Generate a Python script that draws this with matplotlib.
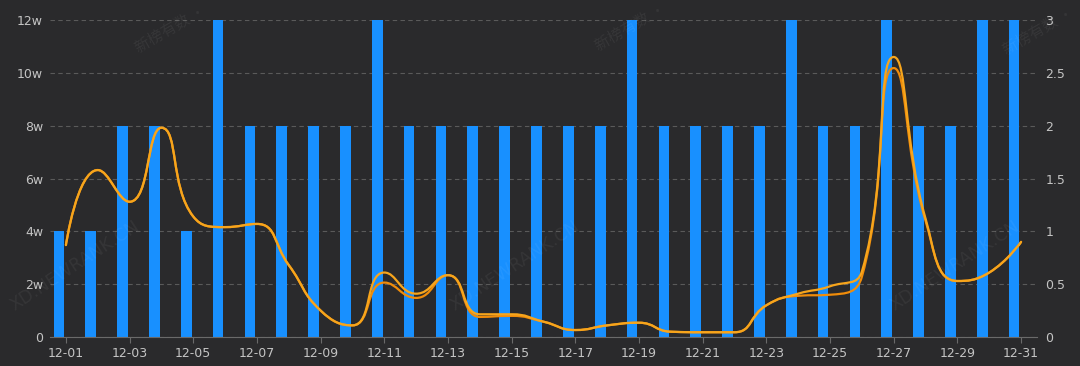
import numpy as np
import matplotlib
matplotlib.use("Agg")
import matplotlib.pyplot as plt
from matplotlib.path import Path
from matplotlib.patches import PathPatch

plt.rcParams["font.family"] = ["DejaVu Sans", "Noto Sans CJK SC"]

DAYS = [f"12-{d:02d}" for d in range(1, 32)]

# bar series, left axis (units of 1w = 10,000)
BAR_VALUES = [4, 4, 8, 8, 4, 12, 8, 8, 8, 8, 12, 8, 8, 8, 8, 8,
              8, 8, 12, 8, 8, 8, 8, 12, 8, 8, 12, 8, 8, 12, 12]

# line series, right axis
LINE_GOLD = [0.87, 1.58, 1.28, 1.98, 1.14, 1.04, 1.07, 0.68, 0.25, 0.11,
             0.61, 0.41, 0.585, 0.215, 0.215, 0.145, 0.066, 0.11, 0.135, 0.05,
             0.045, 0.045, 0.30, 0.41, 0.48, 0.62, 2.65, 1.12, 0.53, 0.61, 0.90]
LINE_ORANGE = [0.87, 1.58, 1.28, 1.98, 1.14, 1.04, 1.07, 0.68, 0.25, 0.11,
               0.515, 0.37, 0.585, 0.19, 0.20, 0.145, 0.066, 0.11, 0.135, 0.05,
               0.045, 0.045, 0.30, 0.39, 0.40, 0.57, 2.545, 1.10, 0.53, 0.61, 0.90]

LEFT_TICKS = [0, 2, 4, 6, 8, 10, 12]
LEFT_LABELS = ["0", "2w", "4w", "6w", "8w", "10w", "12w"]
RIGHT_TICKS = [0, 0.5, 1, 1.5, 2, 2.5, 3]
RIGHT_LABELS = ["0", "0.5", "1", "1.5", "2", "2.5", "3"]

BG = "#2a2a2c"
BAR_COLOR = "#1890ff"
TEXT_COLOR = "#c4c4c4"
AXIS_COLOR = "#6a6a6a"
GRID_COLOR = "#5a5a5a"


def smooth_path(xs, ys, sx, sy, smooth=0.5):
    """Bezier path through the points, control points clamped like echarts."""
    p = np.column_stack([np.asarray(xs, float) * sx, np.asarray(ys, float) * sy])
    n = len(p)
    verts = [tuple(p[0])]
    codes = [Path.MOVETO]
    cp_out = p[0].copy()
    for i in range(1, n):
        cur = p[i]
        if i == n - 1:
            cp_in = cur.copy()
            nxt_out = cur.copy()
        else:
            prev, nxt = p[i - 1], p[i + 1]
            v = nxt - prev
            l0 = np.hypot(*(cur - prev))
            l1 = np.hypot(*(nxt - cur))
            r = l1 / (l0 + l1)
            c1 = cur + v * smooth * r
            c1 = np.minimum(c1, np.maximum(nxt, cur))
            c1 = np.maximum(c1, np.minimum(nxt, cur))
            vv = c1 - cur
            c0 = cur - vv * l0 / l1
            c0 = np.minimum(c0, np.maximum(prev, cur))
            c0 = np.maximum(c0, np.minimum(prev, cur))
            vv = cur - c0
            c1 = cur + vv * l1 / l0
            cp_in, nxt_out = c0, c1
        verts += [tuple(cp_out), tuple(cp_in), tuple(cur)]
        codes += [Path.CURVE4] * 3
        cp_out = nxt_out
    verts = np.array(verts)
    verts[:, 0] /= sx
    verts[:, 1] /= sy
    return Path(verts, codes)


fig = plt.figure(figsize=(10.8, 3.66), dpi=100, facecolor=BG)
ax = fig.add_axes([50 / 1080, 1 - 337 / 366, 987 / 1080, 317 / 366])
ax.set_facecolor(BG)

x = np.arange(len(DAYS))
ax.bar(x - 0.22, BAR_VALUES, width=0.335, color=BAR_COLOR, zorder=2)
ax.set_xlim(-0.5, len(DAYS) - 0.5)
ax.set_ylim(0, 12)
ax.set_yticks(LEFT_TICKS)
ax.set_yticklabels(LEFT_LABELS)
ax.grid(axis="y", color=GRID_COLOR, linestyle=(0, (4, 3)), linewidth=0.8, zorder=0)
ax.set_axisbelow(True)

ax.set_xticks(x[::2])
ax.set_xticklabels(DAYS[::2])

for s in ["top", "left", "right"]:
    ax.spines[s].set_visible(False)
ax.spines["bottom"].set_color(AXIS_COLOR)
ax.tick_params(axis="x", colors=AXIS_COLOR, labelcolor=TEXT_COLOR, labelsize=9,
               length=4, pad=3)
ax.tick_params(axis="y", length=0, labelcolor=TEXT_COLOR, labelsize=9, pad=5)

ax2 = ax.twinx()
ax2.set_ylim(0, 3)
ax2.set_yticks(RIGHT_TICKS)
ax2.set_yticklabels(RIGHT_LABELS)
ax2.tick_params(axis="y", length=0, labelcolor=TEXT_COLOR, labelsize=9, pad=6)
for s in ax2.spines.values():
    s.set_visible(False)

sx, sy = 31.84, 105.67
for vals, color in [(LINE_ORANGE, "#f08c0a"), (LINE_GOLD, "#f7a51c")]:
    path = smooth_path(x, vals, sx, sy)
    ax2.add_patch(PathPatch(path, facecolor="none", edgecolor=color,
                            linewidth=1.6, zorder=3, capstyle="round"))

# faint watermarks
for px, py in [(172, 338), (632, 340), (1040, 336)]:
    fig.text(px / 1080, py / 366, "新榜有数 · ", rotation=30,
             family=["Noto Sans CJK SC", "DejaVu Sans"], color="white",
             alpha=0.06, fontsize=11, ha="center", va="center")
for px, py in [(75, 100), (515, 100), (955, 100)]:
    fig.text(px / 1080, py / 366, "XD.NEWRANK.CN", rotation=33,
             color="white", alpha=0.055, fontsize=12.5, ha="center", va="center")

fig.savefig("out.png", dpi=100, facecolor=BG)
